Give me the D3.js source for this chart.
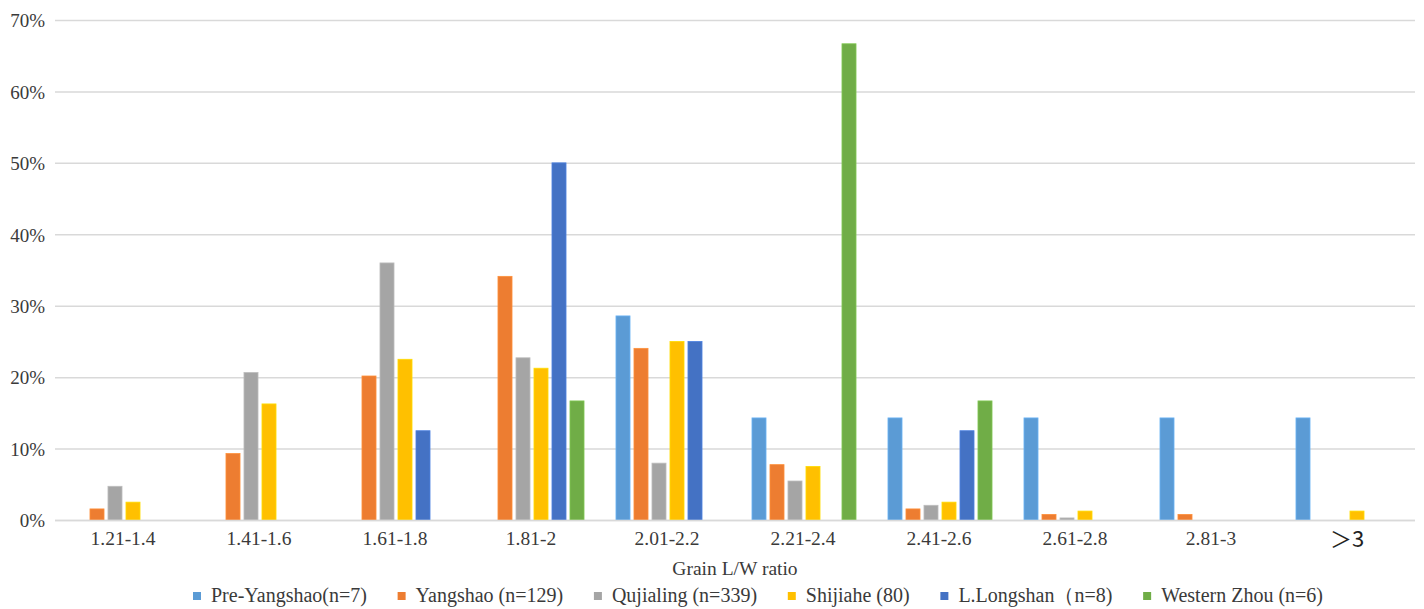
<!DOCTYPE html>
<html>
<head>
<meta charset="utf-8">
<script src="https://cdn.jsdelivr.net/npm/d3@7"></script>
<style>
  html, body { margin: 0; padding: 0; background: #fff; }
  svg { display: block; }
</style>
</head>
<body>
<svg id="chart" width="1424" height="609"></svg>
<script>
// ---- data ----
const categories = ["1.21-1.4", "1.41-1.6", "1.61-1.8", "1.81-2", "2.01-2.2", "2.21-2.4", "2.41-2.6", "2.61-2.8", "2.81-3", "＞3"];
const seriesNames = ["Pre-Yangshao(n=7)", "Yangshao (n=129)", "Qujialing (n=339)", "Shijiahe (80)", "L.Longshan（n=8)", "Western Zhou (n=6)"];
const preYangshao = [0, 0, 0, 0, 28.57, 14.29, 14.29, 14.29, 14.29, 14.29];
const yangshao    = [1.55, 9.30, 20.16, 34.11, 24.03, 7.75, 1.55, 0.78, 0.78, 0];
const qujialing   = [4.72, 20.65, 35.99, 22.71, 7.96, 5.46, 2.06, 0.29, 0, 0];
const shijiahe    = [2.5, 16.25, 22.5, 21.25, 25, 7.5, 2.5, 1.25, 0, 1.25];
const lLongshan   = [0, 0, 12.5, 50, 25, 0, 12.5, 0, 0, 0];
const westernZhou = [0, 0, 0, 16.67, 0, 66.67, 16.67, 0, 0, 0];
const yTicks = [0, 10, 20, 30, 40, 50, 60, 70];
const colors = ["#5B9BD5", "#ED7D31", "#A5A5A5", "#FFC000", "#4472C4", "#70AD47"];

const seriesValues = [preYangshao, yangshao, qujialing, shijiahe, lLongshan, westernZhou];

// ---- layout ----
const svg = d3.select("#chart");
const plot = { left: 55, right: 1415, top: 20, bottom: 520 };
const FONT = "'Liberation Serif', 'Times New Roman', serif";
const CJK = "'Noto Sans CJK SC', 'Liberation Serif', serif";
const TXT = "#3a3a3a";

const x0 = d3.scaleBand().domain(categories).range([plot.left, plot.right]).paddingInner(0).paddingOuter(0);
const x1 = d3.scaleBand().domain(d3.range(seriesNames.length))
  .range([15, x0.bandwidth() - 13]).paddingInner(0.22).paddingOuter(0.11);
const y = d3.scaleLinear().domain([0, 70]).range([plot.bottom, plot.top]);

// gridlines
svg.append("g")
  .selectAll("line")
  .data(yTicks)
  .join("line")
  .attr("x1", plot.left).attr("x2", plot.right)
  .attr("y1", d => y(d) + 0.5).attr("y2", d => y(d) + 0.5)
  .attr("stroke", "#D9D9D9").attr("stroke-width", 1.5);

// y axis labels
const yAxis = d3.axisLeft(y).tickValues(yTicks).tickFormat(d => d + "%").tickSize(0).tickPadding(10);
const yg = svg.append("g").attr("transform", `translate(${plot.left},0)`).call(yAxis);
yg.select(".domain").remove();
yg.selectAll("text")
  .style("font-family", FONT).style("font-size", "19px").style("fill", TXT)
  .attr("dy", "0.36em");

// bars
const groups = svg.append("g").selectAll("g")
  .data(categories)
  .join("g")
  .attr("transform", d => `translate(${x0(d)},0)`);

groups.selectAll("rect")
  .data((c, i) => seriesValues.map((vals, s) => ({ s, v: vals[i] })).filter(d => d.v > 0))
  .join("rect")
  .attr("x", d => x1(d.s))
  .attr("width", x1.bandwidth())
  .attr("y", d => y(d.v))
  .attr("height", d => y(0) - y(d.v))
  .attr("fill", d => colors[d.s])
  .attr("stroke", d => d3.color(colors[d.s]).brighter(0.4))
  .attr("stroke-width", 0.8);

// baseline
svg.append("line")
  .attr("x1", plot.left).attr("x2", plot.right)
  .attr("y1", y(0) + 0.5).attr("y2", y(0) + 0.5)
  .attr("stroke", "#D9D9D9").attr("stroke-width", 1.5);

// x axis labels
const xAxis = d3.axisBottom(x0).tickSize(0).tickPadding(11);
const xg = svg.append("g").attr("transform", `translate(0,${plot.bottom})`).call(xAxis);
xg.select(".domain").remove();
xg.selectAll("text")
  .style("font-family", d => d === "＞3" ? CJK : FONT)
  .style("font-size", d => d === "＞3" ? "22px" : "19.5px")
  .style("fill", d => d === "＞3" ? "#222" : TXT);

// x axis title
svg.append("text")
  .attr("x", (plot.left + plot.right) / 2)
  .attr("y", 575)
  .attr("text-anchor", "middle")
  .style("font-family", FONT).style("font-size", "19.5px").style("fill", TXT)
  .text("Grain L/W ratio");

// legend
const legend = svg.append("g");
const items = seriesNames.map((name, i) => {
  const g = legend.append("g");
  g.append("rect").attr("y", 592).attr("width", 8).attr("height", 8).attr("fill", colors[i]);
  const t = g.append("text").attr("y", 602)
    .style("font-family", FONT).style("font-size", "20px").style("fill", TXT).text(name);
  return { g, t, w: t.node().getComputedTextLength() };
});
const legendStart = 193, legendEnd = 1323, markGap = 18;
const totalW = d3.sum(items, d => markGap + d.w);
const gap = Math.max(12, (legendEnd - legendStart - totalW) / (items.length - 1));
let lx = legendStart;
items.forEach(it => {
  it.g.select("rect").attr("x", lx);
  it.t.attr("x", lx + markGap);
  lx += markGap + it.w + gap;
});
</script>
</body>
</html>
